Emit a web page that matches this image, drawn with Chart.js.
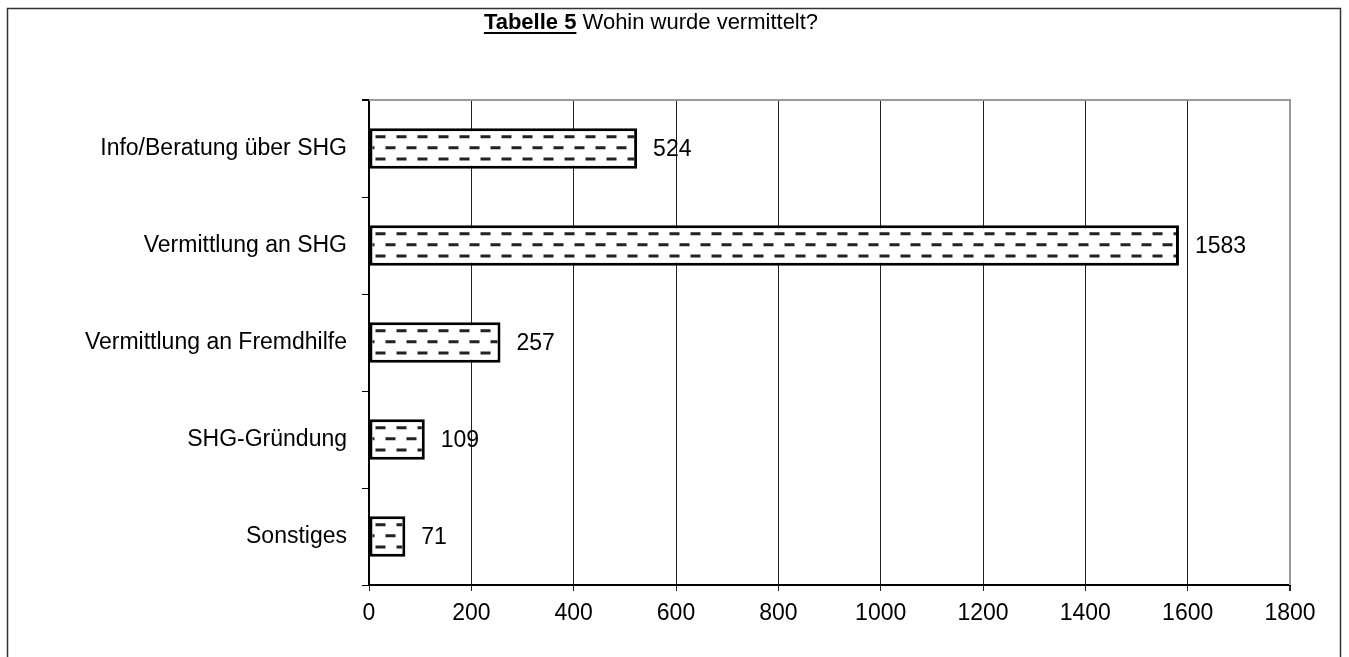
<!DOCTYPE html>
<html>
<head>
<meta charset="utf-8">
<script src="https://cdn.jsdelivr.net/npm/chart.js@4.4.0/dist/chart.umd.min.js"></script>
<style>
  body { margin: 0; background: #fff; }
  #wrap { width: 1349px; height: 657px; position: relative; }
</style>
</head>
<body>
<div id="wrap"><canvas id="chart"></canvas></div>
<script>
// Data
const categories = ['Info/Beratung über SHG', 'Vermittlung an SHG', 'Vermittlung an Fremdhilfe', 'SHG-Gründung', 'Sonstiges'];
const counts = [524, 1583, 257, 109, 71];
const axisMax = 1800;
const axisStep = 200;
const titleBold = 'Tabelle 5';
const titleRest = ' Wohin wurde vermittelt?';

const FONT = '"Liberation Sans", Arial, sans-serif';

// frame, title, plot border and value labels
const decorPlugin = {
    id: 'decor',
    beforeDraw(chart) {
        const ctx = chart.ctx;
        ctx.save();
        ctx.strokeStyle = '#333';
        ctx.lineWidth = 1.5;
        ctx.beginPath();
        ctx.moveTo(7.5, 700);
        ctx.lineTo(7.5, 8.5);
        ctx.lineTo(1340.5, 8.5);
        ctx.lineTo(1340.5, 700);
        ctx.stroke();

        // title: bold underlined part + normal part
        ctx.font = 'bold 22px ' + FONT;
        const w1 = ctx.measureText(titleBold).width;
        ctx.font = '22px ' + FONT;
        const w2 = ctx.measureText(titleRest).width;
        let x = 651 - (w1 + w2) / 2;
        const y = 23;
        ctx.fillStyle = '#000';
        ctx.textBaseline = 'middle';
        ctx.font = 'bold 22px ' + FONT;
        ctx.fillText(titleBold, x, y);
        ctx.fillRect(x, y + 9, w1, 2);
        ctx.font = '22px ' + FONT;
        ctx.fillText(titleRest, x + w1, y);
        ctx.restore();
    },
    beforeDatasetsDraw(chart) {
        const ctx = chart.ctx;
        const a = chart.chartArea;
        ctx.save();
        ctx.strokeStyle = '#999';
        ctx.lineWidth = 2;
        ctx.beginPath();
        ctx.moveTo(a.left - 7, a.top);
        ctx.lineTo(a.right, a.top);
        ctx.lineTo(a.right, a.bottom);
        ctx.stroke();
        ctx.strokeStyle = '#000';
        ctx.beginPath();
        ctx.moveTo(a.left - 7, a.top);
        ctx.lineTo(a.left, a.top);
        ctx.stroke();
        ctx.restore();
    },
    afterDatasetsDraw(chart) {
        const ctx = chart.ctx;
        const meta = chart.getDatasetMeta(0);
        ctx.save();
        meta.data.forEach((bar, i) => {
            const p = bar.getProps(['x', 'y', 'base', 'height'], true);
            const left = p.base + 3, right = p.x - 3;
            const top = p.y - p.height / 2 + 3, bottom = p.y + p.height / 2 - 3;
            // dashed fill pattern
            ctx.save();
            ctx.beginPath();
            ctx.rect(left, top, right - left, bottom - top);
            ctx.clip();
            ctx.strokeStyle = '#222';
            ctx.lineWidth = 3;
            const rows = [[0.21, 6], [0.48, -5], [0.76, 6]];
            const h = p.height;
            rows.forEach(([f, off]) => {
                const yy = p.y - h / 2 + h * f;
                ctx.beginPath();
                for (let xx = p.base + off; xx < right; xx += 21) {
                    ctx.moveTo(xx, yy);
                    ctx.lineTo(xx + 10, yy);
                }
                ctx.stroke();
            });
            ctx.restore();

            // value label
            ctx.fillStyle = '#000';
            ctx.font = '23px ' + FONT;
            ctx.textBaseline = 'middle';
            ctx.textAlign = 'left';
            ctx.fillText(String(counts[i]), p.x + 16, p.y + 1);
        });
        ctx.restore();
    }
};

const ctx = document.getElementById('chart').getContext('2d');
const chart = new Chart(ctx, {
    type: 'bar',
    data: {
        labels: categories,
        datasets: [{
            data: counts,
            backgroundColor: '#fff',
            borderColor: '#000',
            borderWidth: 3,
            borderSkipped: false,
            barPercentage: 0.42,
            categoryPercentage: 1
        }]
    },
    options: {
        indexAxis: 'y',
        responsive: true,
        maintainAspectRatio: false,
        animation: false,
        layout: { padding: { top: 100, right: 59, left: 0, bottom: 0 } },
        plugins: {
            legend: { display: false },
            tooltip: { enabled: false }
        },
        scales: {
            x: {
                min: 0,
                max: axisMax,
                ticks: {
                    stepSize: axisStep,
                    color: '#000',
                    font: { family: FONT, size: 23 },
                    padding: 9,
                    callback: v => String(v)
                },
                grid: {
                    color: c => (c.tick && c.tick.value === axisMax) ? '#999' : '#222',
                    lineWidth: c => (c.tick && c.tick.value === axisMax) ? 2 : 1,
                    tickLength: 6,
                    tickColor: '#222'
                },
                border: { color: '#000', width: 2 },
                afterFit(scale) { scale.height = 72; }
            },
            y: {
                ticks: {
                    color: '#000',
                    font: { family: FONT, size: 23 },
                    padding: 15
                },
                grid: {
                    offset: true,
                    drawOnChartArea: false,
                    tickLength: 7,
                    color: '#000'
                },
                border: { color: '#000', width: 2 },
                afterFit(scale) { scale.width = 369; }
            }
        }
    },
    plugins: [decorPlugin]
});
</script>
</body>
</html>
